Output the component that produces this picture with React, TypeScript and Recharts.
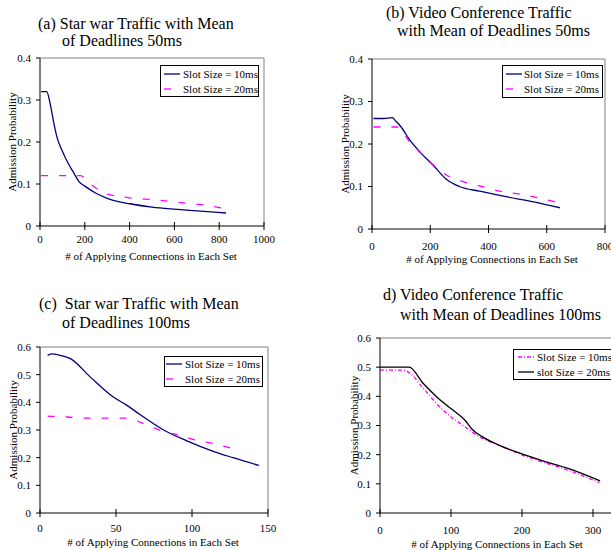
import { LineChart, Line, XAxis, YAxis, Legend, ReferenceLine } from 'recharts'

const FONT = '"Liberation Serif", "Times New Roman", serif'
const NAVY = '#000080'
const PINK = '#FF00FF'

// (a) Star war traffic, mean deadline 50ms
const aX10 = [5, 30, 45, 60, 75, 100, 125, 150, 175, 200, 250, 300, 350, 400, 500, 600, 700, 830]
const aY10 = [0.32, 0.32, 0.292, 0.25, 0.213, 0.178, 0.15, 0.127, 0.105, 0.095, 0.078, 0.066, 0.058, 0.053, 0.045, 0.04, 0.036, 0.031]
const aX20 = [5, 100, 180, 225, 300, 350, 420, 500, 560, 640, 730, 810]
const aY20 = [0.12, 0.12, 0.12, 0.1, 0.076, 0.071, 0.066, 0.063, 0.06, 0.055, 0.05, 0.043]

// (b) Video conference traffic, mean deadline 50ms
const bX10 = [5, 40, 70, 80, 100, 130, 165, 210, 255, 300, 370, 460, 555, 645]
const bY10 = [0.26, 0.26, 0.262, 0.255, 0.24, 0.209, 0.181, 0.15, 0.117, 0.1, 0.089, 0.076, 0.064, 0.05]
const bX20 = [5, 40, 85, 130, 200, 263, 315, 377, 440, 507, 573, 640]
const bY20 = [0.24, 0.24, 0.24, 0.205, 0.157, 0.124, 0.111, 0.1, 0.089, 0.082, 0.073, 0.062]

// (c) Star war traffic, mean deadline 100ms
const cX10 = [5, 8, 13, 20, 33, 48, 57, 66, 81, 97, 114, 127, 144]
const cY10 = [0.57, 0.575, 0.57, 0.558, 0.492, 0.42, 0.39, 0.355, 0.301, 0.26, 0.223, 0.2, 0.172]
const cX20 = [5, 18, 30, 44, 56, 70, 82, 91, 103, 115, 127]
const cY20 = [0.35, 0.347, 0.343, 0.343, 0.343, 0.319, 0.293, 0.282, 0.263, 0.25, 0.232]

// (d) Video conference traffic, mean deadline 100ms
const dX10 = [0, 33, 42, 61, 89, 117, 141, 169, 197, 230, 267, 309]
const dY10 = [0.49, 0.49, 0.48, 0.427, 0.352, 0.3, 0.26, 0.231, 0.202, 0.174, 0.145, 0.104]
const dX20 = [0, 41, 61, 80, 103, 120, 129, 145, 169, 197, 225, 267, 310]
const dY20 = [0.5, 0.5, 0.444, 0.398, 0.352, 0.317, 0.289, 0.26, 0.231, 0.205, 0.182, 0.151, 0.11]

const ticksA = [0, 200, 400, 600, 800, 1000]
const ticksB = [0, 200, 400, 600, 800]
const ticksC = [0, 50, 100, 150]
const ticksD = [0, 100, 200, 300, 400]
const yTicks4 = [0, 0.1, 0.2, 0.3, 0.4]
const yTicks6 = [0, 0.1, 0.2, 0.3, 0.4, 0.5, 0.6]

const zip = (xs: number[], ys: number[]) => xs.map((x, i) => ({ x, y: ys[i] }))

type Series = { name: string; data: { x: number; y: number }[]; color: string; dash?: string; width?: number }

const txt = { fontFamily: FONT, fontSize: 11 }

function LegendBox({ series, w, h, pad, gap }: any) {
  return (
    <div style={{ width: w, height: h, border: '1px solid #000', boxSizing: 'border-box', background: '#fff', ...txt, color: '#000' }}>
      {series.map((s: Series) => (
        <div key={s.name} style={{ display: 'flex', alignItems: 'center', height: (h - 2) / 2, paddingLeft: pad }}>
          <svg width={16} height={4} style={{ flex: 'none' }}>
            <line x1={0} x2={16} y1={2} y2={2} stroke={s.color} strokeWidth={1.3} strokeDasharray={s.dash} />
          </svg>
          <span style={{ marginLeft: gap, whiteSpace: 'nowrap' }}>{s.name}</span>
        </div>
      ))}
    </div>
  )
}

function Panel(p: any) {
  const { left, top, width, height, margin, xMax, xTicks, yMax, yTicks, gap, yLabelDx, xLabelX, xLabelDy, series, legend } = p
  return (
    <div style={{ position: 'absolute', left, top, fontFamily: FONT }}>
      <LineChart width={width} height={height} margin={margin} style={{ fontFamily: FONT }}>
        <XAxis
          dataKey="x" type="number" domain={[0, xMax]} ticks={xTicks} interval={0} allowDataOverflow
          height={34} tickSize={0} tickMargin={gap} tickLine={false}
          axisLine={{ stroke: '#000' }}
          tick={(t: any) => (
            <g>
              <line x1={t.x} x2={t.x} y1={t.y - gap - 4} y2={t.y - gap + 4} stroke="#000" />
              <text x={t.x} y={t.y} dy="0.71em" textAnchor="middle" style={txt} fill="#000">{t.payload.value}</text>
            </g>
          )}
          label={(l: any) => (
            <text x={xLabelX} y={l.viewBox.y + xLabelDy} textAnchor="middle" style={txt} fill="#000">
              # of Applying Connections in Each Set
            </text>
          )}
        />
        <YAxis
          type="number" domain={[0, yMax]} ticks={yTicks} interval={0} width={40}
          tickSize={4} tickMargin={5}
          axisLine={{ stroke: '#000' }} tickLine={{ stroke: '#000' }}
          tick={{ fill: '#000', style: txt }}
          label={(l: any) => {
            const cx = l.viewBox.x + yLabelDx
            const cy = l.viewBox.y + l.viewBox.height / 2
            return (
              <text x={cx} y={cy} transform={`rotate(-90 ${cx} ${cy})`} textAnchor="middle" dominantBaseline="central" style={txt} fill="#000">
                Admission Probability
              </text>
            )
          }}
        />
        <ReferenceLine y={yMax} stroke="#808080" ifOverflow="visible" />
        <ReferenceLine x={xMax} stroke="#808080" ifOverflow="visible" />
        {series.map((s: Series) => (
          <Line
            key={s.name} data={s.data} dataKey="y" name={s.name} type="monotone"
            stroke={s.color} strokeWidth={s.width ?? 1.3} strokeDasharray={s.dash}
            dot={false} activeDot={false} isAnimationActive={false}
          />
        ))}
        <Legend
          layout="vertical" align="center" verticalAlign="middle"
          wrapperStyle={{ left: legend.left, top: legend.top, width: legend.w, height: legend.h }}
          content={() => <LegendBox series={series} {...legend} />}
        />
      </LineChart>
    </div>
  )
}

const titleStyle = { position: 'absolute' as const, fontFamily: FONT, fontSize: 16, lineHeight: '16px', whiteSpace: 'pre' as const, color: '#000' }

const titles = [
  { text: '(a) Star war Traffic with Mean', left: 38, top: 16 },
  { text: 'of Deadlines 50ms', left: 62, top: 33 },
  { text: '(b) Video Conference Traffic', left: 386, top: 5 },
  { text: 'with Mean of Deadlines 50ms', left: 397, top: 23 },
  { text: '(c)  Star war Traffic with Mean', left: 39, top: 296 },
  { text: 'of Deadlines 100ms', left: 62, top: 315 },
  { text: 'd) Video Conference Traffic', left: 383, top: 287 },
  { text: 'with Mean of Deadlines 100ms', left: 400, top: 307 },
]

export default function App() {
  const a: Series[] = [
    { name: 'Slot Size = 10ms', data: zip(aX10, aY10), color: NAVY },
    { name: 'Slot Size = 20ms', data: zip(aX20, aY20), color: PINK, dash: '7 11' },
  ]
  const b: Series[] = [
    { name: 'Slot Size = 10ms', data: zip(bX10, bY10), color: NAVY },
    { name: 'Slot Size = 20ms', data: zip(bX20, bY20), color: PINK, dash: '7 11' },
  ]
  const c: Series[] = [
    { name: 'Slot Size = 10ms', data: zip(cX10, cY10), color: NAVY },
    { name: 'Slot Size = 20ms', data: zip(cX20, cY20), color: PINK, dash: '7 11' },
  ]
  const d: Series[] = [
    { name: 'Slot Size = 10ms', data: zip(dX10, dY10), color: PINK, dash: '4 2 1 2' },
    { name: 'slot Size = 20ms', data: zip(dX20, dY20), color: '#000' },
  ]
  return (
    <div style={{ position: 'absolute', left: 0, top: 0, width: 611, height: 550, overflow: 'hidden', background: '#fff' }}>
      {titles.map(t => (
        <div key={t.text} style={{ ...titleStyle, left: t.left, top: t.top }}>{t.text}</div>
      ))}
      <Panel
        left={0} top={0} width={300} height={270} margin={{ top: 58, right: 36, bottom: 10, left: 0 }}
        xMax={1000} xTicks={ticksA} yMax={0.4} yTicks={yTicks4} gap={9} yLabelDx={12} xLabelX={151} xLabelDy={33.5}
        series={a} legend={{ left: 160, top: 65, w: 99, h: 32, pad: 3, gap: 3 }}
      />
      <Panel
        left={300} top={0} width={311} height={270} margin={{ top: 59, right: 6, bottom: 7, left: 32 }}
        xMax={800} xTicks={ticksB} yMax={0.4} yTicks={yTicks4} gap={13} yLabelDx={13} xLabelX={192} xLabelDy={34}
        series={b} legend={{ left: 202, top: 65, w: 101, h: 33, pad: 3, gap: 2 }}
      />
      <Panel
        left={0} top={270} width={300} height={280} margin={{ top: 77, right: 32, bottom: 3, left: 0 }}
        xMax={150} xTicks={ticksC} yMax={0.6} yTicks={yTicks6} gap={11} yLabelDx={12.5} xLabelX={153} xLabelDy={32.5}
        series={c} legend={{ left: 164, top: 86, w: 99, h: 31, pad: 1, gap: 3 }}
      />
      <Panel
        left={300} top={270} width={380} height={280} margin={{ top: 68, right: 16, bottom: 3, left: 40 }}
        xMax={400} xTicks={ticksD} yMax={0.6} yTicks={yTicks6} gap={13} yLabelDx={14} xLabelX={197} xLabelDy={34.5}
        series={d} legend={{ left: 213, top: 79, w: 104, h: 31, pad: 4, gap: 3 }}
      />
    </div>
  )
}
